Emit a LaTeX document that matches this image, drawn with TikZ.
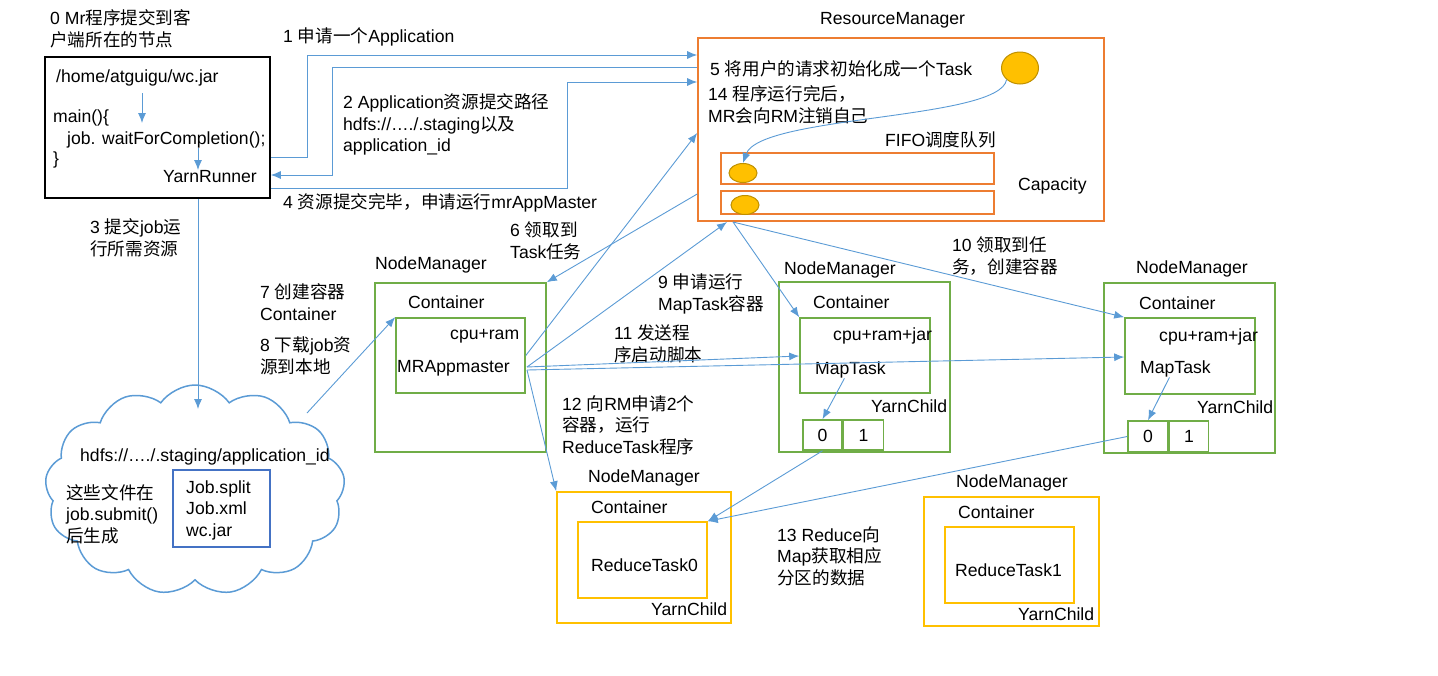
\documentclass[tikz,border=0pt]{standalone}
\usepackage{fontspec}
\setmainfont{Liberation Sans}
\newfontfamily\zhfont{Noto Sans CJK SC}
\newcommand{\zh}[1]{{\zhfont#1}}
\usepackage{tikz}
\usetikzlibrary{positioning}
\usetikzlibrary{shapes.geometric}
\usetikzlibrary{shapes.symbols}
\usetikzlibrary{arrows.meta}
\definecolor{flowblue}{HTML}{5B9BD5}
\definecolor{fileblue}{HTML}{4472C4}
\definecolor{rmorange}{HTML}{ED7D31}
\definecolor{nmgreen}{HTML}{70AD47}
\definecolor{rdyellow}{HTML}{FFC000}
\definecolor{taskedge}{HTML}{BF9000}

\begin{document}
\begin{tikzpicture}[x=1pt, y=-1pt,
	every node/.style={font=\fontsize{17.6pt}{21.5pt}\selectfont},
	txt/.style={inner sep=0pt, anchor=west, align=left},
	plainbox/.style={draw, line width=1.6pt, inner sep=0pt},
	rmbox/.style={plainbox, draw=rmorange},
	nmbox/.style={plainbox, draw=nmgreen},
	rdbox/.style={plainbox, draw=rdyellow},
	taskdot/.style={ellipse, draw=taskedge, fill=rdyellow, line width=1pt, inner sep=0pt},
	flow/.style={draw=flowblue, line width=0.9pt, -{Latex[length=10pt,width=8pt]}}]
	\useasboundingbox (0,0) rectangle (1438,675);
	% Draw the nodes
	% Client
	\node[plainbox, minimum width=225pt, minimum height=141pt] (client) at (157.5,127.5) {};
	\node[txt] (clienthead) at (50,29) {0 Mr\zh{程序提交到客}\\\zh{户端所在的节点}};
	\node[txt] (jar) at (56,78) {/home/atguigu/wc.jar};
	\node[txt] (mainfn) at (53,118) {main()\{};
	\node[txt] (waitfn) at (67,140) {job. waitForCompletion();};
	\node[txt] (closefn) at (53,160) {\}};
	\node[txt] (yarn) at (163,177) {YarnRunner};
	\coordinate (jarout) at (142,93);
	\coordinate (mainin) at (142,123);
	\coordinate (waitout) at (198,148);
	\coordinate (yarnin) at (198,170);
	% Labels of the client steps
	\node[txt] (step1) at (283,37) {1 \zh{申请一个}Application};
	\node[txt] (step2) at (343,124.5) {2 Application\zh{资源提交路径}\\hdfs://…./.staging\zh{以及}\\application\_id};
	\node[txt] (step4) at (283,203) {4 \zh{资源提交完毕，申请运行}mrAppMaster};
	\node[txt] (step3) at (90,238) {3 \zh{提交}job\zh{运}\\\zh{行所需资源}};
	% ResourceManager
	\node[rmbox, minimum width=406pt, minimum height=183pt] (rm) at (901,129.5) {};
	\node[txt] (rmlabel) at (820,20) {ResourceManager};
	\node[txt] (step5) at (710,69) {5 \zh{将用户的请求初始化成一个}Task};
	\node[taskdot, minimum width=37pt, minimum height=32pt] (bigtask) at (1020,68) {};
	\node[txt] (step14) at (708,104.5) {14 \zh{程序运行完后，}\\MR\zh{会向}RM\zh{注销自己}};
	\node[txt] (fifo) at (885,140) {FIFO\zh{调度队列}};
	\node[rmbox, line width=1.4pt, minimum width=273pt, minimum height=31pt] (queue1) at (857.5,168.5) {};
	\node[rmbox, line width=1.4pt, minimum width=273pt, minimum height=23pt] (queue2) at (857.5,202.5) {};
	\node[taskdot, minimum width=28pt, minimum height=19pt] (task1) at (743,173) {};
	\node[taskdot, minimum width=28pt, minimum height=19pt] (task2) at (745,205) {};
	\node[txt] (capacity) at (1018,186) {Capacity};
	% NodeManager of the MRAppmaster
	\node[nmbox, minimum width=171pt, minimum height=169pt] (nm1) at (460.5,367.5) {};
	\node[nmbox, minimum width=129pt, minimum height=75pt] (am) at (460.5,355.5) {};
	\node[txt] (nm1label) at (375,265) {NodeManager};
	\node[txt] (am1label) at (408,302) {Container};
	\node[txt] (amres) at (450,336) {cpu+ram};
	\node[txt] (amname) at (397,368) {MRAppmaster};
	\node[txt] (step6) at (510,241) {6 \zh{领取到}\\Task\zh{任务}};
	\node[txt] (step7) at (260,302) {7 \zh{创建容器}\\Container};
	\node[txt] (step8) at (260,356) {8 \zh{下载}job\zh{资}\\\zh{源到本地}};
	\node[txt] (step9) at (658,294) {9 \zh{申请运行}\\MapTask\zh{容器}};
	\node[txt] (step11) at (614,344) {11 \zh{发送程}\\\zh{序启动脚本}};
	\node[txt] (step12) at (562,425) {12 \zh{向}RM\zh{申请}2\zh{个}\\\zh{容器，运行}\\ReduceTask\zh{程序}};
	\node[txt] (step10) at (952,256) {10 \zh{领取到任}\\\zh{务，创建容器}};
	\coordinate (amout) at (527,367);
	\coordinate (rmin) at (727,222);
	\coordinate (rmout) at (733,222);
	% NodeManager of MapTask 0
	\node[nmbox, minimum width=171pt, minimum height=170pt] (nm2) at (864.5,367) {};
	\node[nmbox, minimum width=130pt, minimum height=75pt] (map0) at (865,355.5) {};
	\node[txt] (nm2label) at (784,270) {NodeManager};
	\node[txt] (map0label) at (813,302) {Container};
	\node[txt] (map0res) at (833,336) {cpu+ram+jar};
	\node[txt] (mt0) at (815,370) {MapTask};
	\node[txt] (yc0) at (871,406) {YarnChild};
	\node[nmbox, minimum width=39pt, minimum height=30pt] (part00) at (822.5,435) {0};
	\node[nmbox, minimum width=40pt, minimum height=30pt, right=0pt of part00] (part01) {1};
	% NodeManager of MapTask 1
	\node[nmbox, minimum width=171pt, minimum height=170pt] (nm3) at (1189.5,368) {};
	\node[nmbox, minimum width=130pt, minimum height=76pt] (map1) at (1190,356) {};
	\node[txt] (nm3label) at (1136,269) {NodeManager};
	\node[txt] (map1label) at (1139,303) {Container};
	\node[txt] (map1res) at (1159,337) {cpu+ram+jar};
	\node[txt] (mt1) at (1140,369) {MapTask};
	\node[txt] (yc1) at (1197,407) {YarnChild};
	\node[nmbox, minimum width=40pt, minimum height=31pt] (part10) at (1148,436.5) {0};
	\node[nmbox, minimum width=39pt, minimum height=31pt, right=0pt of part10] (part11) {1};
	% NodeManagers of the ReduceTasks
	\node[rdbox, minimum width=174pt, minimum height=131pt] (nm4) at (644,557.5) {};
	\node[rdbox, minimum width=129pt, minimum height=76pt] (red0) at (642.5,560) {};
	\node[txt] (nm4label) at (588,478) {NodeManager};
	\node[txt] (red0label) at (591,507) {Container};
	\node[txt] (rt0) at (591,565) {ReduceTask0};
	\node[txt] (yc2) at (651,609) {YarnChild};
	\node[rdbox, minimum width=175pt, minimum height=129pt] (nm5) at (1011.5,561.5) {};
	\node[rdbox, minimum width=129pt, minimum height=76pt] (red1) at (1009.5,565) {};
	\node[txt] (nm5label) at (956,483) {NodeManager};
	\node[txt] (red1label) at (958,512) {Container};
	\node[txt] (rt1) at (955,570) {ReduceTask1};
	\node[txt] (yc3) at (1018,614) {YarnChild};
	\node[txt] (step13) at (777,556) {13 Reduce\zh{向}\\Map\zh{获取相应}\\\zh{分区的数据}};
	% HDFS cloud
	\node[cloud, draw=flowblue, line width=1.5pt, cloud puffs=13, cloud puff arc=110, aspect=1.43, minimum width=300pt, minimum height=210pt] (hdfs) at (195,490) {};
	\node[txt] (hdfspath) at (80,457) {hdfs://…./.staging/application\_id};
	\node[txt] (hdfsnote) at (66,514) {\zh{这些文件在}\\job.submit()\\\zh{后生成}};
	\node[plainbox, draw=fileblue, minimum width=97pt, minimum height=77pt] (files) at (221.5,508.5) {};
	\node[txt] (filelist) at (186,510) {Job.split\\Job.xml\\wc.jar};
	\coordinate (hdfsin) at (198,409);
	\coordinate (hdfsout) at (307,413);

	% Draw the paths between nodes
	\draw[flow] (jarout) -- (mainin);
	\draw[flow] (waitout) -- (yarnin);
	\draw[flow] (client.east |- 0,157) -| (307,55) -- (rm.west |- 0,55);
	\draw[flow] (rm.west |- 0,67) -| (332,175) -- (client.east |- 0,175);
	\draw[flow] (client.east |- 0,188) -| (567,82) -- (rm.west |- 0,82);
	\draw[flow] (client.south -| 198,0) -- (hdfsin);
	\draw[flow] (bigtask.south west) .. controls (1000,120) and (760,115) .. (task1.north);
	\draw[flow] (rm.west |- 0,194) -- (nm1.north east);
	\draw[flow] (am.east) -- (rm.west |- 0,133);
	\draw[flow] (amout) -- (rmin);
	\draw[flow] (rmout) -- (map0.north west);
	\draw[flow] (rmout) -- (map1.north west);
	\draw[flow] (amout) -- (map0.west |- 0,356);
	\draw[flow] ([yshift=-3pt]amout) -- (map1.west |- 0,357);
	\draw[flow] ([yshift=-3pt]amout) -- (nm4.north west);
	\draw[flow] (hdfsout) -- (am.north west);
	\draw[flow] ([xshift=-6pt]mt0.south) -- (part00.north);
	\draw[flow] ([xshift=-6pt]mt1.south) -- (part10.north);
	\draw[flow] (part00.south) -- (red0.north east);
	\draw[flow] (part10.west) -- (red0.north east);
\end{tikzpicture}
\end{document}
